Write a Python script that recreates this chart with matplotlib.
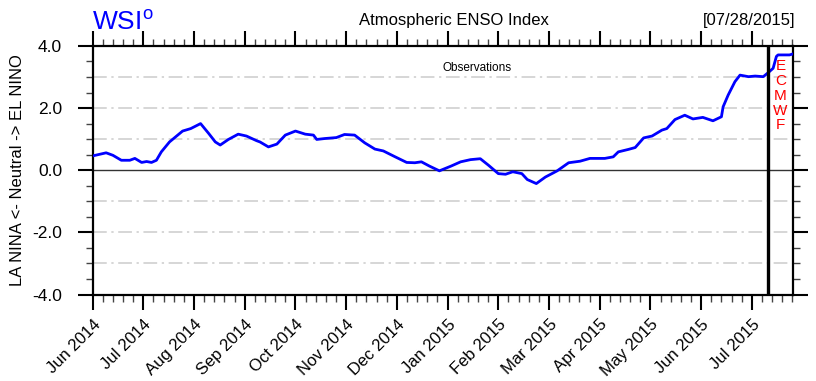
import numpy as np
import pandas as pd
import matplotlib
matplotlib.use("Agg")
import matplotlib.pyplot as plt
from matplotlib.ticker import MultipleLocator, FixedLocator

plt.rcParams['font.family'] = ['Liberation Sans', 'DejaVu Sans']

# Atmospheric ENSO index
index_dates = [
    "2014-06-01", "2014-06-09", "2014-06-13", "2014-06-18", "2014-06-23", "2014-06-26",
    "2014-06-30", "2014-07-03", "2014-07-06", "2014-07-09", "2014-07-12", "2014-07-17",
    "2014-07-25", "2014-07-30", "2014-08-05", "2014-08-10", "2014-08-14", "2014-08-17",
    "2014-08-22", "2014-08-28", "2014-09-02", "2014-09-08", "2014-09-10", "2014-09-15",
    "2014-09-20", "2014-09-25", "2014-10-01", "2014-10-07", "2014-10-12", "2014-10-14",
    "2014-10-19", "2014-10-26", "2014-10-31", "2014-11-06", "2014-11-12", "2014-11-18",
    "2014-11-23", "2014-11-30", "2014-12-07", "2014-12-12", "2014-12-16", "2014-12-21",
    "2014-12-27", "2015-01-03", "2015-01-09", "2015-01-15", "2015-01-21", "2015-01-26",
    "2015-02-01", "2015-02-05", "2015-02-09", "2015-02-14", "2015-02-17", "2015-02-22",
    "2015-02-27", "2015-03-06", "2015-03-13", "2015-03-20", "2015-03-26", "2015-03-28",
    "2015-04-04", "2015-04-09", "2015-04-12", "2015-04-18", "2015-04-22", "2015-04-27",
    "2015-05-02", "2015-05-08", "2015-05-11", "2015-05-16", "2015-05-22", "2015-05-27",
    "2015-06-02", "2015-06-08", "2015-06-13", "2015-06-14", "2015-06-17", "2015-06-21",
    "2015-06-24", "2015-06-29", "2015-07-03", "2015-07-08", "2015-07-11", "2015-07-14",
    "2015-07-16", "2015-07-17", "2015-07-21", "2015-07-24", "2015-07-26",
]
index_values = [
    0.46, 0.56, 0.48, 0.32, 0.32, 0.38,
    0.25, 0.28, 0.25, 0.32, 0.59, 0.91,
    1.26, 1.34, 1.50, 1.18, 0.91, 0.81,
    0.99, 1.16, 1.10, 0.95, 0.91, 0.75,
    0.84, 1.13, 1.26, 1.16, 1.13, 0.99,
    1.02, 1.05, 1.15, 1.13, 0.88, 0.68,
    0.62, 0.43, 0.25, 0.24, 0.27, 0.13,
    -0.02, 0.13, 0.27, 0.34, 0.37, 0.16,
    -0.11, -0.13, -0.05, -0.11, -0.30, -0.43,
    -0.22, -0.02, 0.24, 0.29, 0.38, 0.38,
    0.38, 0.43, 0.59, 0.67, 0.73, 1.04,
    1.10, 1.29, 1.34, 1.63, 1.77, 1.65,
    1.70, 1.59, 1.72, 2.04, 2.42, 2.85,
    3.06, 3.01, 3.03, 3.01, 3.14, 3.28,
    3.66, 3.71, 3.71, 3.71, 3.74,
]

month_labels = ["Jun 2014", "Jul 2014", "Aug 2014", "Sep 2014", "Oct 2014", "Nov 2014",
                "Dec 2014", "Jan 2015", "Feb 2015", "Mar 2015", "Apr 2015", "May 2015",
                "Jun 2015", "Jul 2015"]
forecast_start = "2015-07-11"
axis_end = "2015-07-26"
grid_levels = [-3, -2, -1, 1, 2, 3]


def month_pos(s):
    # months are drawn equally wide, so position = months since Jun 2014
    d = pd.Timestamp(s)
    return (d.year - 2014) * 12 + d.month - 6 + (d.day - 1) / d.days_in_month


x = [month_pos(d) for d in index_dates]

fig = plt.figure(figsize=(8.16, 3.81), dpi=100)
ax = fig.add_axes([0.1135, 0.227, 0.858, 0.6525])

for g in grid_levels:
    ax.axhline(g, color='#cccccc', lw=1.1, linestyle=(0, (9, 3, 1.5, 3)), zorder=1)
ax.axhline(0, color='#333333', lw=1.0, zorder=1)

ax.plot(x, index_values, color='#0000ff', lw=2.0, zorder=3)
ax.axvline(month_pos(forecast_start), color='black', lw=2.4, zorder=4)

ax.set_xlim(0, month_pos(axis_end))
ax.set_ylim(-4, 4)

ax.xaxis.set_major_locator(FixedLocator(range(len(month_labels))))
ax.set_xticklabels(month_labels, rotation=45, ha='right', rotation_mode='anchor', fontsize=12)
ax.xaxis.set_minor_locator(MultipleLocator(0.2))
ax.yaxis.set_minor_locator(MultipleLocator(0.5))
ax.set_yticks([-4, -2, 0, 2, 4])
ax.set_yticklabels(["-4.0", "-2.0", "0.0", "2.0", "4.0"], fontsize=12.5)

ax.tick_params(which='major', direction='out', length=11, width=1.5,
               top=True, right=True, pad=5)
ax.tick_params(axis='y', which='major', pad=11)
ax.tick_params(which='minor', direction='out', length=5, width=1.0, color='#444444',
               top=True, right=True)
for sp in ax.spines.values():
    sp.set_linewidth(1.6)

ax.set_ylabel("LA NINA <- Neutral -> EL NINO", fontsize=12, labelpad=5)

fig.text(92 / 816, 1 - 30 / 381, "WSI$^{\\mathregular{o}}$", color='#0000ff', fontsize=19,
         ha='left', va='baseline')
fig.text(454 / 816, 1 - 25 / 381, "Atmospheric ENSO Index", fontsize=12, ha='center',
         va='baseline')
fig.text(795 / 816, 1 - 25 / 381, "[07/28/2015]", fontsize=12, ha='right', va='baseline')
ax.text(month_pos("2015-01-19"), 3.3, "Observations", fontsize=8.5, ha='center',
        va='center')
ax.text((month_pos(forecast_start) + month_pos(axis_end)) / 2, 2.4, "E\nC\nM\nW\nF",
        color='red', fontsize=11, ha='center', va='center', linespacing=1.08)

fig.savefig("out.png", dpi=100)
